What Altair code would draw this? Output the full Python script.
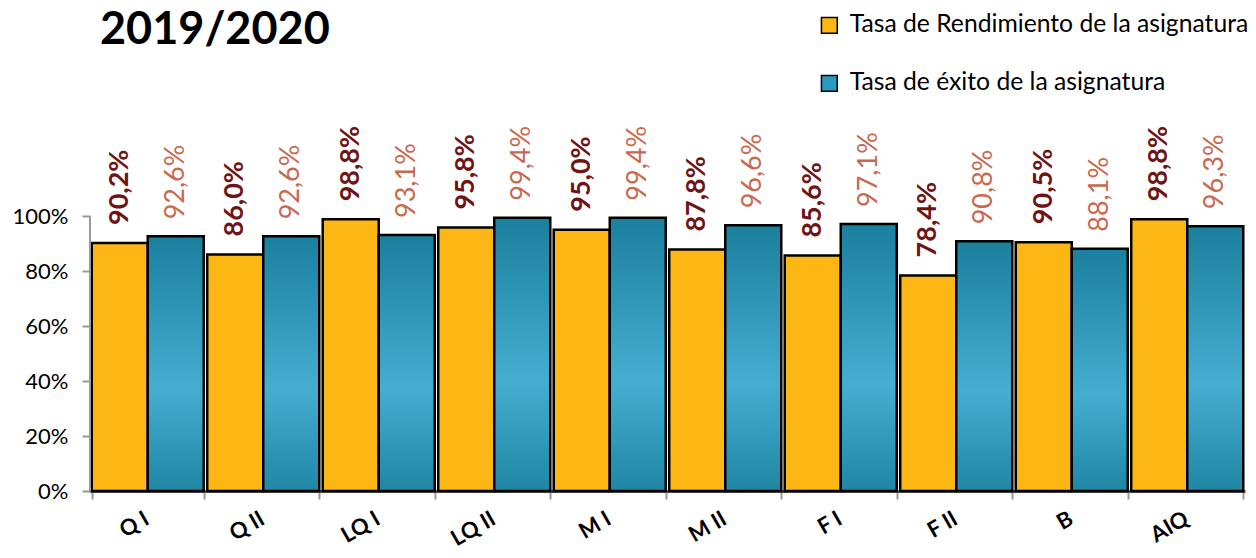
import altair as alt
import pandas as pd

categories = ["Q I", "Q II", "LQ I", "LQ II", "M I", "M II", "F I", "F II", "B", "AIQ"]
series = ["Tasa de Rendimiento de la asignatura", "Tasa de éxito de la asignatura"]
rendimiento = [90.2, 86.0, 98.8, 95.8, 95.0, 87.8, 85.6, 78.4, 90.5, 98.8]
exito = [92.6, 92.6, 93.1, 99.4, 99.4, 96.6, 97.1, 90.8, 88.1, 96.3]

rows = []
for c, r, e in zip(categories, rendimiento, exito):
    rows.append({"cat": c, "serie": series[0], "v": r / 100, "label": f"{r:.1f}%".replace(".", ",")})
    rows.append({"cat": c, "serie": series[1], "v": e / 100, "label": f"{e:.1f}%".replace(".", ",")})
df = pd.DataFrame(rows)

YELLOW = "#FDB714"
BLUE = "#2A9AC0"
FONT = "Lato"

x_enc = alt.X("cat:N", sort=categories, title=None,
              scale=alt.Scale(paddingInner=0.03, paddingOuter=0.015),
              axis=alt.Axis(labelAngle=330, labelFontSize=22, labelFontWeight="bold",
                            labelFont=FONT, labelColor="black", labelPadding=9, labelOffset=-6,
                            tickBand="extent", tickSize=8, tickColor="#999", tickWidth=2,
                            domainColor="#555", domainWidth=3))
xoff = alt.XOffset("serie:N", scale=alt.Scale(domain=series, paddingInner=0.0))
y_enc = alt.Y("v:Q", title=None, scale=alt.Scale(domain=[0, 1.4], nice=False),
              axis=alt.Axis(values=[0, 0.2, 0.4, 0.6, 0.8, 1.0], format=".0%", grid=False,
                            labelFontSize=22, labelFont=FONT, labelColor="black",
                            tickSize=8, tickColor="#999", tickWidth=2, labelPadding=14,
                            domain=False))

base = alt.Chart(df)

bars_y = base.transform_filter(alt.datum.serie == series[0]).mark_bar(
    stroke="black", strokeWidth=2.5
).encode(
    x=x_enc, xOffset=xoff, y=y_enc,
    fill=alt.Fill("serie:N", scale=alt.Scale(domain=series, range=[YELLOW, BLUE]),
                  legend=alt.Legend(title=None, orient="none", legendX=727, legendY=-93,
                                    direction="vertical", symbolType="square", symbolSize=250,
                                    symbolStrokeColor="black", symbolStrokeWidth=1.5,
                                    labelFontSize=24.7, labelFont=FONT, labelColor="black",
                                    rowPadding=32, labelOffset=8, labelLimit=600)),
)

bars_b = base.transform_filter(alt.datum.serie == series[1]).mark_bar(
    stroke="black", strokeWidth=2.5,
    fill=alt.Gradient(gradient="linear", x1=0, y1=0, x2=0, y2=1,
                      stops=[alt.GradientStop(color="#1B7F9E", offset=0),
                             alt.GradientStop(color="#45AED0", offset=0.6),
                             alt.GradientStop(color="#1F86A4", offset=1)])
).encode(x=x_enc, xOffset=xoff, y=y_enc)

labels_y = base.transform_filter(alt.datum.serie == series[0]).mark_text(
    angle=270, align="left", baseline="middle", dx=18, fontSize=27, fontWeight="bold",
    font=FONT, color="#6E1416"
).encode(x=x_enc, xOffset=xoff, y=y_enc, text="label:N")

labels_b = base.transform_filter(alt.datum.serie == series[1]).mark_text(
    angle=270, align="left", baseline="middle", dx=17, fontSize=27,
    font=FONT, color="#C8694F"
).encode(x=x_enc, xOffset=xoff, y=y_enc, text="label:N")

yaxis_line = alt.Chart(pd.DataFrame({"a": [0]})).mark_rule(color="#999", strokeWidth=2).encode(
    x=alt.value(0), y=alt.datum(0), y2=alt.datum(1)
)

chart = alt.layer(bars_y, bars_b, labels_y, labels_b, yaxis_line).properties(
    width=1155, height=385,
    autosize=alt.AutoSizeParams(type="none"),
    padding={"left": 82, "top": 98, "right": 3, "bottom": 59},
    title=alt.TitleParams("2019/2020", anchor="start", frame="group", fontSize=45,
                          font=FONT, fontWeight="bold", color="black", dx=10, offset=-40),
).configure_view(stroke=None)

chart.save("out.html", embed_options={"renderer": "svg", "actions": False})
